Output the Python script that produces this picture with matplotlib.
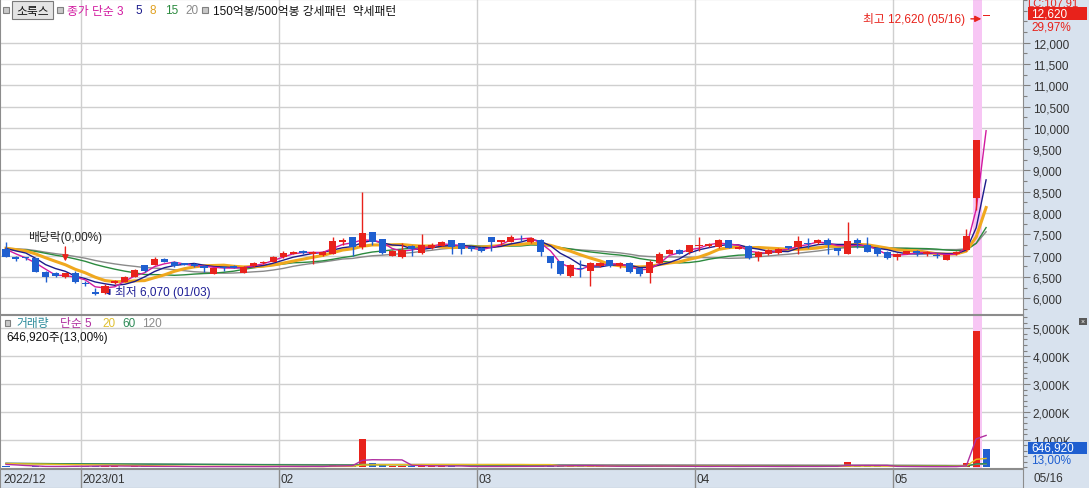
import matplotlib
matplotlib.use('Agg')
import matplotlib.pyplot as plt
from matplotlib.patches import Rectangle
from matplotlib.ticker import FuncFormatter, MultipleLocator
import numpy as np
import pandas as pd

plt.rcParams['font.family'] = ['Liberation Sans', 'Noto Sans CJK KR']

# 2022/12/20 ~ 2023/05/16 일봉 (소룩스)
opens = [7150, 6980, 6950, 6940, 6620, 6600, 6500, 6590,
         6360, 6150, 6120, 6350, 6390, 6500, 6780, 6780, 6930, 6860, 6820, 6800, 6760, 6580, 6740, 6760, 6600, 6760, 6820, 6860,
         6960, 7040, 7110, 7040, 7020, 7040, 7320, 7430, 7210, 7550, 7380, 7000, 6960, 7220, 7070, 7170, 7230, 7360, 7290, 7200,
         7180, 7430, 7310, 7330, 7400, 7320, 7370, 6990, 6870, 6520, 6700, 6640, 6760, 6890, 6750, 6840, 6700, 6600, 6830, 7040, 7140, 7090,
         7230, 7220, 7200, 7360, 7160, 7230, 6960, 7040, 7060, 7220, 7210, 7290, 7290, 7370, 7180, 7050, 7360, 7250, 7180, 7090,
         6970, 7040, 7120, 7050, 7010, 6900, 7030, 7130, 8360, 12620]
highs = [7330, 7000, 6980, 6950, 6640, 6620, 6600, 6650,
         6400, 6240, 6330, 6430, 6520, 6680, 6790, 6960, 6950, 6870, 6830, 6820, 6780, 6720, 6750, 6770, 6760, 6850, 6880, 6990,
         7100, 7120, 7130, 7120, 7110, 7440, 7420, 7440, 8500, 7560, 7400, 7130, 7290, 7240, 7520, 7300, 7340, 7370, 7300, 7230,
         7200, 7440, 7370, 7490, 7490, 7440, 7380, 7000, 6880, 6800, 6890, 6860, 6860, 6900, 6860, 6850, 6710, 6900, 7080, 7160, 7150, 7260,
         7450, 7300, 7380, 7370, 7220, 7240, 7100, 7150, 7170, 7230, 7460, 7420, 7390, 7420, 7190, 7780, 7420, 7440, 7200, 7100,
         7060, 7120, 7130, 7110, 7070, 7020, 7100, 7620, 9710, 12620]
lows = [6980, 6880, 6900, 6610, 6380, 6500, 6480, 6370,
        6300, 6070, 6100, 6330, 6380, 6490, 6620, 6770, 6850, 6740, 6770, 6740, 6620, 6570, 6640, 6700, 6590, 6740, 6800, 6850,
        6950, 7030, 7040, 6800, 7000, 7030, 7250, 7000, 7150, 7250, 7050, 6990, 6940, 7000, 7050, 7160, 7220, 7050, 7050, 7120,
        7090, 7100, 7250, 7320, 7350, 7300, 7000, 6700, 6540, 6510, 6500, 6280, 6740, 6740, 6700, 6590, 6530, 6350, 6820, 7030, 7030, 7050,
        7100, 7200, 7190, 7170, 7150, 6930, 6880, 7020, 7050, 7150, 7050, 7180, 7280, 7050, 7010, 7030, 7180, 7080, 7000, 6920,
        6890, 7030, 7000, 7000, 6940, 6890, 7020, 7110, 8070, 12620]
closes = [6980, 6920, 6940, 6620, 6490, 6520, 6590, 6380,
          6330, 6100, 6300, 6410, 6500, 6660, 6640, 6930, 6860, 6760, 6790, 6750, 6720, 6710, 6700, 6720, 6740, 6830, 6860, 6970,
          7070, 7090, 7060, 7080, 7090, 7340, 7360, 7210, 7540, 7330, 7070, 7110, 7140, 7150, 7260, 7240, 7330, 7210, 7160, 7160,
          7100, 7320, 7360, 7440, 7380, 7420, 7090, 6830, 6560, 6780, 6680, 6830, 6830, 6760, 6840, 6620, 6560, 6860, 7030, 7130, 7040, 7240,
          7250, 7280, 7360, 7180, 7200, 6940, 7090, 7130, 7150, 7170, 7340, 7270, 7360, 7250, 7100, 7340, 7290, 7090, 7050, 6940,
          7050, 7100, 7060, 7080, 7000, 7010, 7090, 7470, 9710, 12620]
# 거래량 (천주)
volumes_k = [40, 35, 30, 45, 50, 30, 40, 60,
             50, 70, 60, 40, 35, 45, 40, 50, 30, 35, 25, 30, 35, 40, 30, 25, 35, 40, 30, 45,
             40, 35, 30, 45, 35, 110, 60, 70, 1010, 150, 90, 60, 55, 40, 100, 45, 50, 40, 35, 30,
             35, 50, 40, 45, 35, 40, 60, 70, 80, 65, 55, 60, 40, 35, 40, 50, 55, 60, 45, 35, 40, 45,
             40, 35, 45, 40, 30, 50, 40, 35, 30, 30, 60, 40, 35, 45, 35, 210, 50, 45, 40, 35,
             35, 30, 30, 25, 30, 35, 40, 150, 4885, 646.92]
# 화면 이전 구간 (이동평균용)
prev_closes = [7150, 7180, 7220, 7260, 7200, 7170, 7140, 7120, 7160, 7190,
               7150, 7130, 7170, 7200, 7180, 7210, 7190, 7240, 7230]
prev_volumes_k = [180, 150, 160, 140, 170, 190, 150, 130, 160, 170,
                  150, 140, 180, 160, 150, 170, 140, 160, 150, 130,
                  170, 160, 150, 140, 160, 180, 150, 140, 160, 150,
                  140, 130, 150, 160, 140, 150, 130, 140, 120, 130]

month_start = [0, 8, 28, 48, 70, 90]
month_labels = ['2022/12', '2023/01', '02', '03', '04', '05']
price_ticks = list(range(6000, 12001, 500))
vol_ticks = [1000000, 2000000, 3000000, 4000000, 5000000]

RED, BLUE = '#e8221b', '#1f5fd0'
W, H = 1089, 489
fig = plt.figure(figsize=(W / 100, H / 100), dpi=100, facecolor='#d8e2ee')


def px_axes(x0, y0, x1, y1):
    return fig.add_axes([x0 / W, 1 - y1 / H, (x1 - x0) / W, (y1 - y0) / H])


def ftext(x, y, s, **kw):
    kw.setdefault('va', 'center')
    kw.setdefault('fontsize', 8.5)
    return fig.text(x / W, 1 - y / H, s, **kw)


def frect(x0, y0, x1, y1, **kw):
    fig.add_artist(Rectangle((x0 / W, 1 - y1 / H), (x1 - x0) / W, (y1 - y0) / H,
                             transform=fig.transFigure, **kw))


n = len(closes)
x = np.arange(n)
o, h, l, c = map(np.array, (opens, highs, lows, closes))
prev_c = np.r_[prev_closes[-1], c[:-1]]
up = (c > o) | ((c == o) & (c >= prev_c))
ccol = np.where(up, RED, BLUE)
vcol = np.where(c > o, RED, BLUE)
vol = np.array(volumes_k) * 1000

xlim = (-6 / 9.9, (1023 - 6) / 9.9)
grid_x = np.array(month_start[1:]) - 0.4

ax = px_axes(0, 0, 1023, 315)
axv = px_axes(0, 316, 1023, 469)
axd = px_axes(0, 470, 1023, 489)

for a in (ax, axv):
    a.set_xlim(*xlim)
    a.set_facecolor('white')
    a.set_xticks([])
    a.yaxis.tick_right()
    a.tick_params(axis='y', which='major', length=5, width=0.8, color='#808080',
                  labelsize=8.5, labelcolor='#333333', pad=2)
    a.tick_params(axis='y', which='minor', length=3, width=0.8, color='#808080')
    for s in a.spines.values():
        s.set_color('#8c8c8c')
    for gx in grid_x:
        a.axvline(gx, color='#cfcfcf', lw=1, zorder=0)
    a.axvspan(97.65, 98.6, color='#f7c6f4', zorder=0.5, lw=0)

# 가격 차트
ax.set_ylim(5631, 13026)
ax.set_yticks(price_ticks)
ax.yaxis.set_minor_locator(MultipleLocator(250))
ax.yaxis.set_major_formatter(FuncFormatter(lambda v, p: f'{v:,.0f}'))
for t in price_ticks:
    ax.axhline(t, color='#cfcfcf', lw=1, zorder=0)

s = pd.Series(prev_closes + closes)
ma_style = [(20, '#8a8a8a', 1.0), (15, '#2b8a3e', 1.0), (8, '#f0a81e', 2.2),
            (5, '#1c1c8c', 1.0), (3, '#d21aa0', 1.0)]
for win, col, lw in ma_style:
    ma = s.rolling(win).mean().values[len(prev_closes):]
    ax.plot(x, ma, color=col, lw=lw, zorder=2)

ax.vlines(x, l, h, colors=ccol, lw=1, zorder=3)
body = np.maximum(np.abs(c - o), 22)
ax.bar(x, body, bottom=np.minimum(o, c), width=0.72, color=ccol, lw=0, zorder=4)

ax.text(6, 7440, '배당락(0,00%)', ha='center', va='center', fontsize=8.5, color='#222222')
ax.annotate('', xy=(6, 6800), xytext=(6, 7270),
            arrowprops=dict(arrowstyle='-|>', color=RED, lw=1, mutation_scale=9))
ax.annotate('최저 6,070 (01/03)', xy=(9.55, 6150), xytext=(11.0, 6150), va='center',
            fontsize=8.5, color='#1e1e96',
            arrowprops=dict(arrowstyle='-|>', color='#1e1e96', lw=1, mutation_scale=9))
ax.annotate('최고 12,620 (05/16)', xy=(98.8, 12560), xytext=(96.9, 12560), va='center', ha='right',
            fontsize=8.5, color=RED,
            arrowprops=dict(arrowstyle='-|>', color=RED, lw=1, mutation_scale=9))

# 거래량 차트
axv.set_ylim(-18000, 5476000)
axv.set_yticks(vol_ticks)
axv.yaxis.set_minor_locator(MultipleLocator(200000))
axv.yaxis.set_major_formatter(FuncFormatter(lambda v, p: f'{v / 1000:,.0f}K'))
for t in vol_ticks:
    axv.axhline(t, color='#cfcfcf', lw=1, zorder=0)
axv.bar(x, vol, width=0.72, color=vcol, lw=0, zorder=3)
sv = pd.Series(prev_volumes_k + list(volumes_k)) * 1000
for win, col in [(120, '#909090'), (60, '#2e8b57'), (20, '#e8c020'), (5, '#b02fa0')]:
    ma = sv.rolling(win, min_periods=1).mean().values[len(prev_volumes_k):]
    axv.plot(x, ma, color=col, lw=1, zorder=4)

# 날짜 축
axd.set_xlim(*xlim)
axd.set_ylim(0, 1)
axd.set_facecolor('#d8e2ee')
axd.set_xticks([])
axd.set_yticks([])
for sp in axd.spines.values():
    sp.set_color('#8c8c8c')
for gx in grid_x:
    axd.axvline(gx, color='#8c8c8c', lw=1)
for m, lab in zip(month_start, month_labels):
    axd.text(m - 0.4 + 0.15, 0.45, lab, va='center', ha='left', fontsize=8.5, color='#333333')
ftext(1033, 479, '05/16', color='#333333')

# 상단 범례
frect(3, 8, 9, 14, facecolor='#c8c8c8', edgecolor='#808080', lw=0.8)
frect(12, 2, 53, 20, facecolor='#e4e4e4', edgecolor='#7a7a7a', lw=0.8)
ftext(32.5, 11.5, '소룩스', ha='center', color='#111111')
frect(57, 8, 63, 14, facecolor='#c8c8c8', edgecolor='#808080', lw=0.8)
for xx, txt, col in [(67, '종가 단순 3', '#d21aa0'), (135, '5', '#1c1c8c'), (150, '8', '#e0a020'),
                     (165, '15', '#2b8a3e'), (185, '20', '#8a8a8a')]:
    ftext(xx, 11.5, txt, color=col)
frect(202, 8, 208, 14, facecolor='#c8c8c8', edgecolor='#808080', lw=0.8)
ftext(213, 11.5, '150억봉/500억봉 강세패턴  약세패턴', color='#111111')

frect(5, 321, 10, 327, facecolor='#c8c8c8', edgecolor='#808080', lw=0.8)
for xx, txt, col in [(16, '거래량', '#2a8a9a'), (60, '단순 5', '#b02fa0'), (102, '20', '#e0c030'),
                     (122, '60', '#2e8b57'), (142, '120', '#8a8a8a')]:
    ftext(xx, 324, txt, color=col)
ftext(6, 337.5, '646,920주(13,00%)', color='#111111')

# 우측 현재가 표시
ftext(1027, 4, 'LC:107.91', color=RED, fontsize=8)
frect(1028, 8, 1087, 21, facecolor=RED, edgecolor='none')
ftext(1031, 14.5, '12,620', color='white')
ftext(1031, 27, '29,97%', color=RED)
frect(1028, 443, 1087, 455, facecolor=BLUE, edgecolor='none')
ftext(1031, 449, '646,920', color='white')
ftext(1031, 461, '13,00%', color=BLUE)
frect(1079, 319, 1087, 326, facecolor='#5a5a5a', edgecolor='none')
ftext(1083, 322.5, '×', color='white', ha='center', fontsize=5)

fig.savefig('out.png', dpi=100, facecolor=fig.get_facecolor())
